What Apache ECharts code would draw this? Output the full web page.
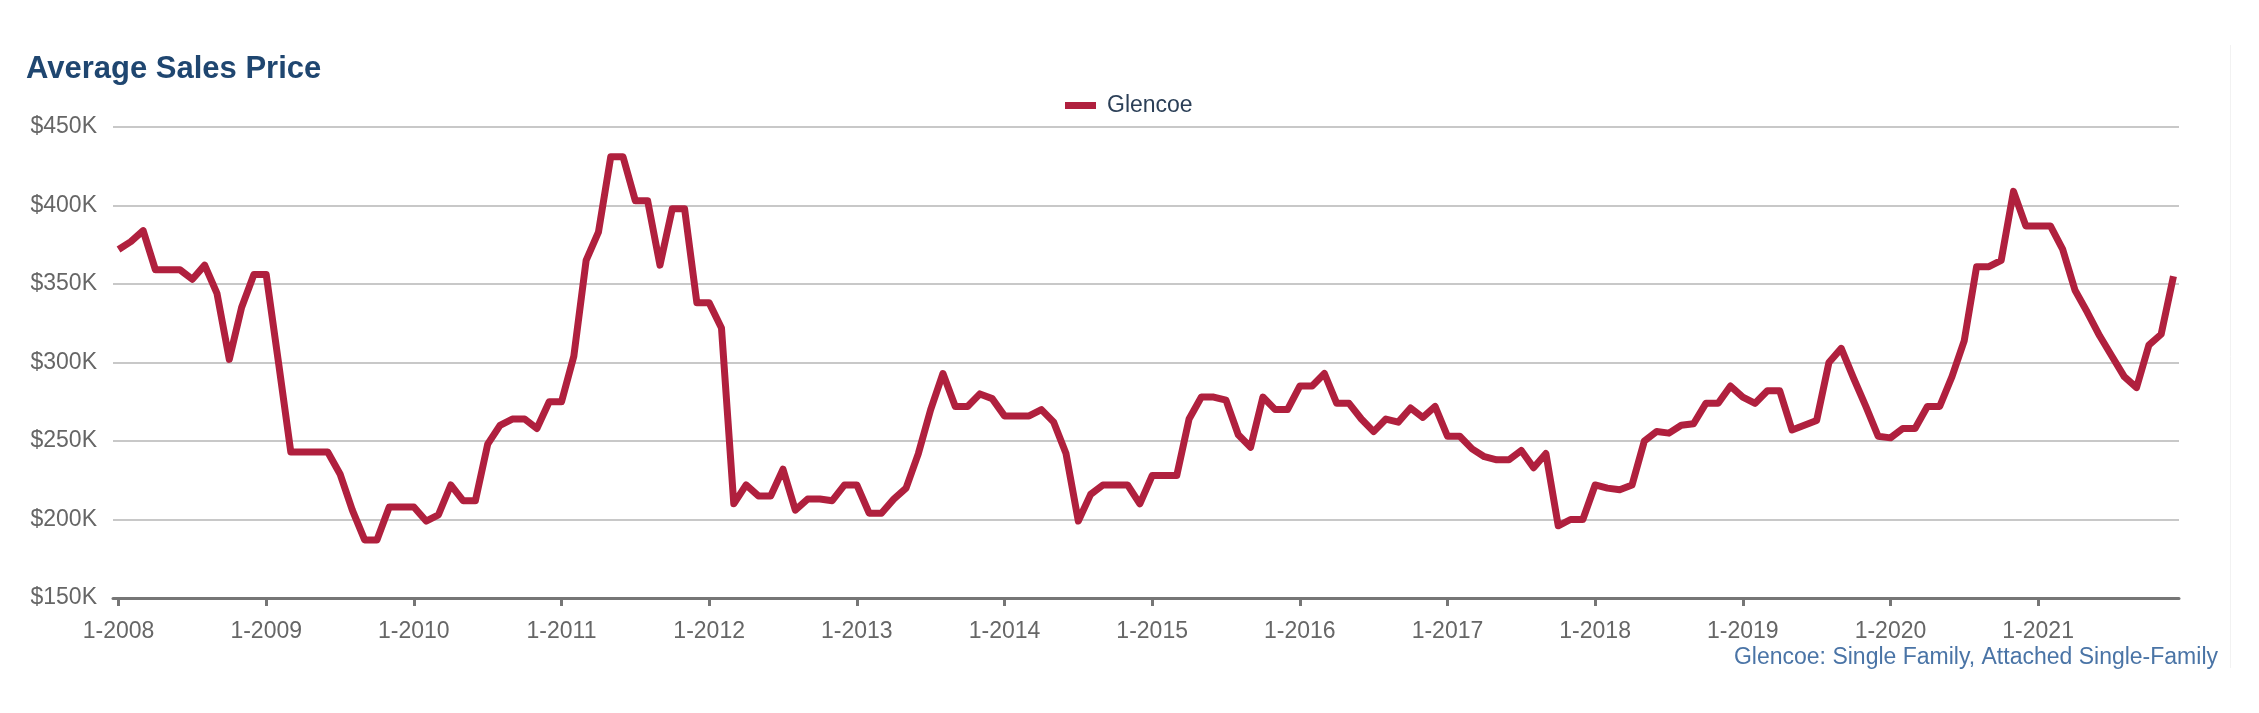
<!DOCTYPE html>
<html>
<head>
<meta charset="utf-8">
<script src="https://cdn.jsdelivr.net/npm/echarts@6/dist/echarts.min.js"></script>
<style>
html,body{margin:0;padding:0;background:#fff;}
#chart{width:2259px;height:713px;}
</style>
</head>
<body>
<div id="chart"></div>
<script>
// Monthly average sales price, Jan 2008 - Dec 2021
const seriesName = 'Glencoe';
const prices2008 = [372000, 377000, 384000, 359000, 359000, 359000, 353000, 362000, 344000, 302000, 335000, 356000];
const prices2009 = [356000, 300000, 243000, 243000, 243000, 243000, 229000, 206000, 187000, 187000, 208000, 208000];
const prices2010 = [208000, 199000, 203000, 222000, 212000, 212000, 248000, 260000, 264000, 264000, 258000, 275000];
const prices2011 = [275000, 304000, 365000, 383000, 431000, 431000, 403000, 403000, 362000, 398000, 398000, 338000];
const prices2012 = [338000, 322000, 210000, 222000, 215000, 215000, 232000, 206000, 213000, 213000, 212000, 222000];
const prices2013 = [222000, 204000, 204000, 213000, 220000, 242000, 270000, 293000, 272000, 272000, 280000, 277000];
const prices2014 = [266000, 266000, 266000, 270000, 262000, 242000, 199000, 216000, 222000, 222000, 222000, 210000];
const prices2015 = [228000, 228000, 228000, 264000, 278000, 278000, 276000, 254000, 246000, 278000, 270000, 270000];
const prices2016 = [285000, 285000, 293000, 274000, 274000, 264000, 256000, 264000, 262000, 271000, 265000, 272000];
const prices2017 = [253000, 253000, 245000, 240000, 238000, 238000, 244000, 233000, 242000, 196000, 200000, 200000];
const prices2018 = [222000, 220000, 219000, 222000, 250000, 256000, 255000, 260000, 261000, 274000, 274000, 285000];
const prices2019 = [278000, 274000, 282000, 282000, 257000, 260000, 263000, 300000, 309000, 290000, 272000, 253000];
const prices2020 = [252000, 258000, 258000, 272000, 272000, 291000, 314000, 361000, 361000, 365000, 409000, 387000];
const prices2021 = [387000, 387000, 372000, 346000, 332000, 317000, 304000, 291000, 284000, 311000, 318000, 355000];
const years = [2008, 2009, 2010, 2011, 2012, 2013, 2014, 2015, 2016, 2017, 2018, 2019, 2020, 2021];
const tickLabels = ['1-2008','1-2009','1-2010','1-2011','1-2012','1-2013','1-2014','1-2015','1-2016','1-2017','1-2018','1-2019','1-2020','1-2021'];
const yTicks = [150000, 200000, 250000, 300000, 350000, 400000, 450000];
const footnote = 'Glencoe: Single Family, Attached Single-Family';
const titleText = 'Average Sales Price';

const allPrices = [].concat(prices2008, prices2009, prices2010, prices2011, prices2012, prices2013, prices2014,
  prices2015, prices2016, prices2017, prices2018, prices2019, prices2020, prices2021);
const categories = [];
years.forEach(y => { for (let m = 1; m <= 12; m++) categories.push(m + '-' + y); });
const data = allPrices.map((v, i) => [i, v]);
const tickPositions = tickLabels.map((_, k) => k * 12);

const FONT = '"Liberation Sans", Arial, sans-serif';
const chart = echarts.init(document.getElementById('chart'), null, {renderer: 'canvas'});
chart.setOption({
  animation: false,
  backgroundColor: '#ffffff',
  textStyle: {fontFamily: FONT},
  title: {
    text: titleText,
    left: 21,
    top: 49,
    textStyle: {fontFamily: FONT, fontSize: 31, fontWeight: 'bold', color: '#1f4670'}
  },
  legend: {
    left: 1060,
    top: 89,
    icon: 'rect',
    itemWidth: 31,
    itemHeight: 7,
    data: [seriesName],
    textStyle: {fontFamily: FONT, fontSize: 23, color: '#2b3f57', padding: [0, 0, 0, 6]}
  },
  grid: {left: 113, right: 80, top: 127, bottom: 115, containLabel: false},
  xAxis: {
    type: 'value',
    min: -0.45,
    max: allPrices.length - 1 + 0.45,
    splitLine: {show: false},
    axisLine: {show: true, lineStyle: {color: '#767676', width: 3}},
    axisTick: {show: true, customValues: tickPositions, length: 8, lineStyle: {color: '#767676', width: 3}},
    axisLabel: {
      customValues: tickPositions,
      formatter: v => tickLabels[Math.round(v / 12)],
      fontFamily: FONT, fontSize: 23, color: '#666666', margin: 22
    }
  },
  yAxis: {
    type: 'value',
    min: yTicks[0],
    max: yTicks[yTicks.length - 1],
    interval: 50000,
    axisLine: {show: false},
    axisTick: {show: false},
    splitLine: {show: true, lineStyle: {color: '#c8c8c8', width: 2}},
    axisLabel: {
      formatter: v => '$' + Math.round(v / 1000) + 'K',
      fontFamily: FONT, fontSize: 23, color: '#666666', margin: 16,
      padding: [7, 0, 0, 0]
    }
  },
  series: [{
    name: seriesName,
    type: 'line',
    data: data,
    showSymbol: false,
    symbol: 'none',
    itemStyle: {color: '#b0203e'},
    lineStyle: {color: '#b0203e', width: 7, join: 'round'}
  }],
  graphic: [
    {
      type: 'text',
      right: 41,
      top: 646,
      style: {text: footnote, fontFamily: FONT, fontSize: 23, fill: '#4a74a6', textAlign: 'right'}
    },
    {
      type: 'line',
      shape: {x1: 2230.5, y1: 45, x2: 2230.5, y2: 668},
      style: {stroke: '#f2f2f2', lineWidth: 1}
    }
  ]
});
</script>
</body>
</html>
